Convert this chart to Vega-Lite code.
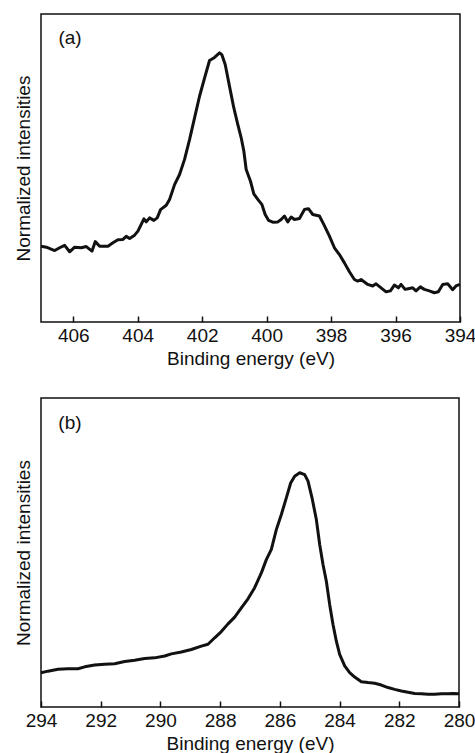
{
  "$schema": "https://vega.github.io/schema/vega-lite/v6.json",
  "padding": {"left": 13, "top": 13, "right": 0, "bottom": 0},
  "background": "white",
  "config": {
    "font": "Liberation Sans",
    "view": {"stroke": "#111", "strokeWidth": 1.5},
    "axis": {"labelFont": "Liberation Sans", "titleFont": "Liberation Sans", "labelFontSize": 19, "titleFontSize": 19, "titleFontWeight": "normal", "labelColor": "#111", "titleColor": "#111", "grid": false},
    "axisX": {"tickSize": -6, "tickColor": "#111", "tickWidth": 1.5, "domain": false, "labelPadding": 10, "titlePadding": 4, "labelFlush": false, "labelOverlap": false},
    "axisY": {"ticks": false, "labels": false, "domain": false, "titlePadding": 8}
  },
  "spacing": 28,
  "datasets": {
    "n1s": [
      {"E": 407.0, "I": 0.246}, {"E": 406.835, "I": 0.243}, {"E": 406.576, "I": 0.232}, {"E": 406.421, "I": 0.241}, {"E": 406.266, "I": 0.249}, {"E": 406.111, "I": 0.228}, {"E": 405.956, "I": 0.243}, {"E": 405.75, "I": 0.241}, {"E": 405.595, "I": 0.245}, {"E": 405.419, "I": 0.23}, {"E": 405.316, "I": 0.261}, {"E": 405.181, "I": 0.246}, {"E": 404.923, "I": 0.246}, {"E": 404.768, "I": 0.257}, {"E": 404.613, "I": 0.267}, {"E": 404.458, "I": 0.268}, {"E": 404.355, "I": 0.278}, {"E": 404.251, "I": 0.271}, {"E": 404.096, "I": 0.282}, {"E": 403.993, "I": 0.295}, {"E": 403.89, "I": 0.317}, {"E": 403.807, "I": 0.335}, {"E": 403.735, "I": 0.325}, {"E": 403.631, "I": 0.338}, {"E": 403.497, "I": 0.33}, {"E": 403.394, "I": 0.338}, {"E": 403.29, "I": 0.365}, {"E": 403.115, "I": 0.379}, {"E": 403.011, "I": 0.398}, {"E": 402.856, "I": 0.446}, {"E": 402.701, "I": 0.479}, {"E": 402.546, "I": 0.528}, {"E": 402.391, "I": 0.592}, {"E": 402.236, "I": 0.663}, {"E": 402.081, "I": 0.733}, {"E": 401.926, "I": 0.792}, {"E": 401.771, "I": 0.849}, {"E": 401.616, "I": 0.859}, {"E": 401.461, "I": 0.874}, {"E": 401.389, "I": 0.868}, {"E": 401.285, "I": 0.836}, {"E": 401.151, "I": 0.765}, {"E": 401.017, "I": 0.695}, {"E": 400.893, "I": 0.641}, {"E": 400.789, "I": 0.598}, {"E": 400.707, "I": 0.555}, {"E": 400.634, "I": 0.495}, {"E": 400.5, "I": 0.457}, {"E": 400.397, "I": 0.416}, {"E": 400.273, "I": 0.398}, {"E": 400.149, "I": 0.382}, {"E": 400.045, "I": 0.349}, {"E": 399.942, "I": 0.33}, {"E": 399.808, "I": 0.324}, {"E": 399.653, "I": 0.325}, {"E": 399.549, "I": 0.333}, {"E": 399.446, "I": 0.344}, {"E": 399.343, "I": 0.325}, {"E": 399.239, "I": 0.341}, {"E": 399.136, "I": 0.333}, {"E": 398.981, "I": 0.336}, {"E": 398.826, "I": 0.365}, {"E": 398.702, "I": 0.368}, {"E": 398.568, "I": 0.349}, {"E": 398.361, "I": 0.344}, {"E": 398.227, "I": 0.317}, {"E": 398.051, "I": 0.279}, {"E": 397.896, "I": 0.241}, {"E": 397.741, "I": 0.219}, {"E": 397.586, "I": 0.192}, {"E": 397.431, "I": 0.163}, {"E": 397.276, "I": 0.138}, {"E": 397.173, "I": 0.133}, {"E": 397.069, "I": 0.138}, {"E": 396.863, "I": 0.122}, {"E": 396.708, "I": 0.117}, {"E": 396.604, "I": 0.124}, {"E": 396.449, "I": 0.111}, {"E": 396.294, "I": 0.098}, {"E": 396.16, "I": 0.101}, {"E": 396.036, "I": 0.12}, {"E": 395.912, "I": 0.111}, {"E": 395.829, "I": 0.122}, {"E": 395.705, "I": 0.106}, {"E": 395.571, "I": 0.109}, {"E": 395.468, "I": 0.111}, {"E": 395.364, "I": 0.101}, {"E": 395.23, "I": 0.114}, {"E": 395.106, "I": 0.106}, {"E": 394.951, "I": 0.101}, {"E": 394.796, "I": 0.095}, {"E": 394.672, "I": 0.098}, {"E": 394.537, "I": 0.122}, {"E": 394.382, "I": 0.124}, {"E": 394.227, "I": 0.105}, {"E": 394.124, "I": 0.117}, {"E": 394.0, "I": 0.122}
    ],
    "c1s": [
      {"E": 294.0, "I": 0.111}, {"E": 293.766, "I": 0.116}, {"E": 293.431, "I": 0.122}, {"E": 293.096, "I": 0.124}, {"E": 292.761, "I": 0.124}, {"E": 292.537, "I": 0.13}, {"E": 292.203, "I": 0.136}, {"E": 291.868, "I": 0.138}, {"E": 291.533, "I": 0.14}, {"E": 291.198, "I": 0.147}, {"E": 290.863, "I": 0.151}, {"E": 290.528, "I": 0.157}, {"E": 290.193, "I": 0.159}, {"E": 289.858, "I": 0.165}, {"E": 289.635, "I": 0.172}, {"E": 289.3, "I": 0.178}, {"E": 288.965, "I": 0.186}, {"E": 288.63, "I": 0.197}, {"E": 288.407, "I": 0.203}, {"E": 288.183, "I": 0.224}, {"E": 287.96, "I": 0.244}, {"E": 287.737, "I": 0.269}, {"E": 287.513, "I": 0.291}, {"E": 287.29, "I": 0.321}, {"E": 287.067, "I": 0.35}, {"E": 286.844, "I": 0.386}, {"E": 286.62, "I": 0.434}, {"E": 286.453, "I": 0.477}, {"E": 286.285, "I": 0.51}, {"E": 286.118, "I": 0.574}, {"E": 285.95, "I": 0.623}, {"E": 285.783, "I": 0.677}, {"E": 285.638, "I": 0.725}, {"E": 285.504, "I": 0.747}, {"E": 285.336, "I": 0.758}, {"E": 285.169, "I": 0.752}, {"E": 285.057, "I": 0.731}, {"E": 284.923, "I": 0.677}, {"E": 284.778, "I": 0.607}, {"E": 284.666, "I": 0.526}, {"E": 284.555, "I": 0.461}, {"E": 284.443, "I": 0.407}, {"E": 284.332, "I": 0.332}, {"E": 284.22, "I": 0.267}, {"E": 284.108, "I": 0.213}, {"E": 283.997, "I": 0.17}, {"E": 283.829, "I": 0.133}, {"E": 283.662, "I": 0.111}, {"E": 283.494, "I": 0.097}, {"E": 283.271, "I": 0.082}, {"E": 283.048, "I": 0.079}, {"E": 282.824, "I": 0.077}, {"E": 282.601, "I": 0.071}, {"E": 282.378, "I": 0.063}, {"E": 282.155, "I": 0.057}, {"E": 281.931, "I": 0.052}, {"E": 281.708, "I": 0.048}, {"E": 281.485, "I": 0.044}, {"E": 281.261, "I": 0.043}, {"E": 281.038, "I": 0.041}, {"E": 280.815, "I": 0.041}, {"E": 280.591, "I": 0.043}, {"E": 280.368, "I": 0.043}, {"E": 280.201, "I": 0.044}, {"E": 280.0, "I": 0.043}
    ]
  },
  "vconcat": [
    {
      "width": 419,
      "height": 308,
      "layer": [
        {
          "data": {"name": "n1s"},
          "mark": {"type": "line", "color": "#111", "strokeWidth": 3, "strokeJoin": "round"},
          "encoding": {
            "x": {"field": "E", "type": "quantitative", "title": "Binding energy (eV)", "scale": {"domain": [394, 407], "reverse": true, "nice": false, "zero": false}, "axis": {"values": [406, 404, 402, 400, 398, 396, 394]}},
            "y": {"field": "I", "type": "quantitative", "title": "Normalized intensities", "scale": {"domain": [0, 1], "nice": false, "zero": false}}
          }
        },
        {
          "data": {"values": [{"label": "(a)", "E": 406.1, "I": 0.922}]},
          "mark": {"type": "text", "fontSize": 19, "font": "Liberation Sans", "color": "#111"},
          "encoding": {
            "x": {"field": "E", "type": "quantitative"},
            "y": {"field": "I", "type": "quantitative"},
            "text": {"field": "label"}
          }
        }
      ]
    },
    {
      "width": 418,
      "height": 309,
      "layer": [
        {
          "data": {"name": "c1s"},
          "mark": {"type": "line", "color": "#111", "strokeWidth": 3, "strokeJoin": "round"},
          "encoding": {
            "x": {"field": "E", "type": "quantitative", "title": "Binding energy (eV)", "scale": {"domain": [280, 294], "reverse": true, "nice": false, "zero": false}, "axis": {"values": [294, 292, 290, 288, 286, 284, 282, 280]}},
            "y": {"field": "I", "type": "quantitative", "title": "Normalized intensities", "scale": {"domain": [0, 1], "nice": false, "zero": false}}
          }
        },
        {
          "data": {"values": [{"label": "(b)", "E": 293.03, "I": 0.92}]},
          "mark": {"type": "text", "fontSize": 19, "font": "Liberation Sans", "color": "#111"},
          "encoding": {
            "x": {"field": "E", "type": "quantitative"},
            "y": {"field": "I", "type": "quantitative"},
            "text": {"field": "label"}
          }
        }
      ]
    }
  ]
}
